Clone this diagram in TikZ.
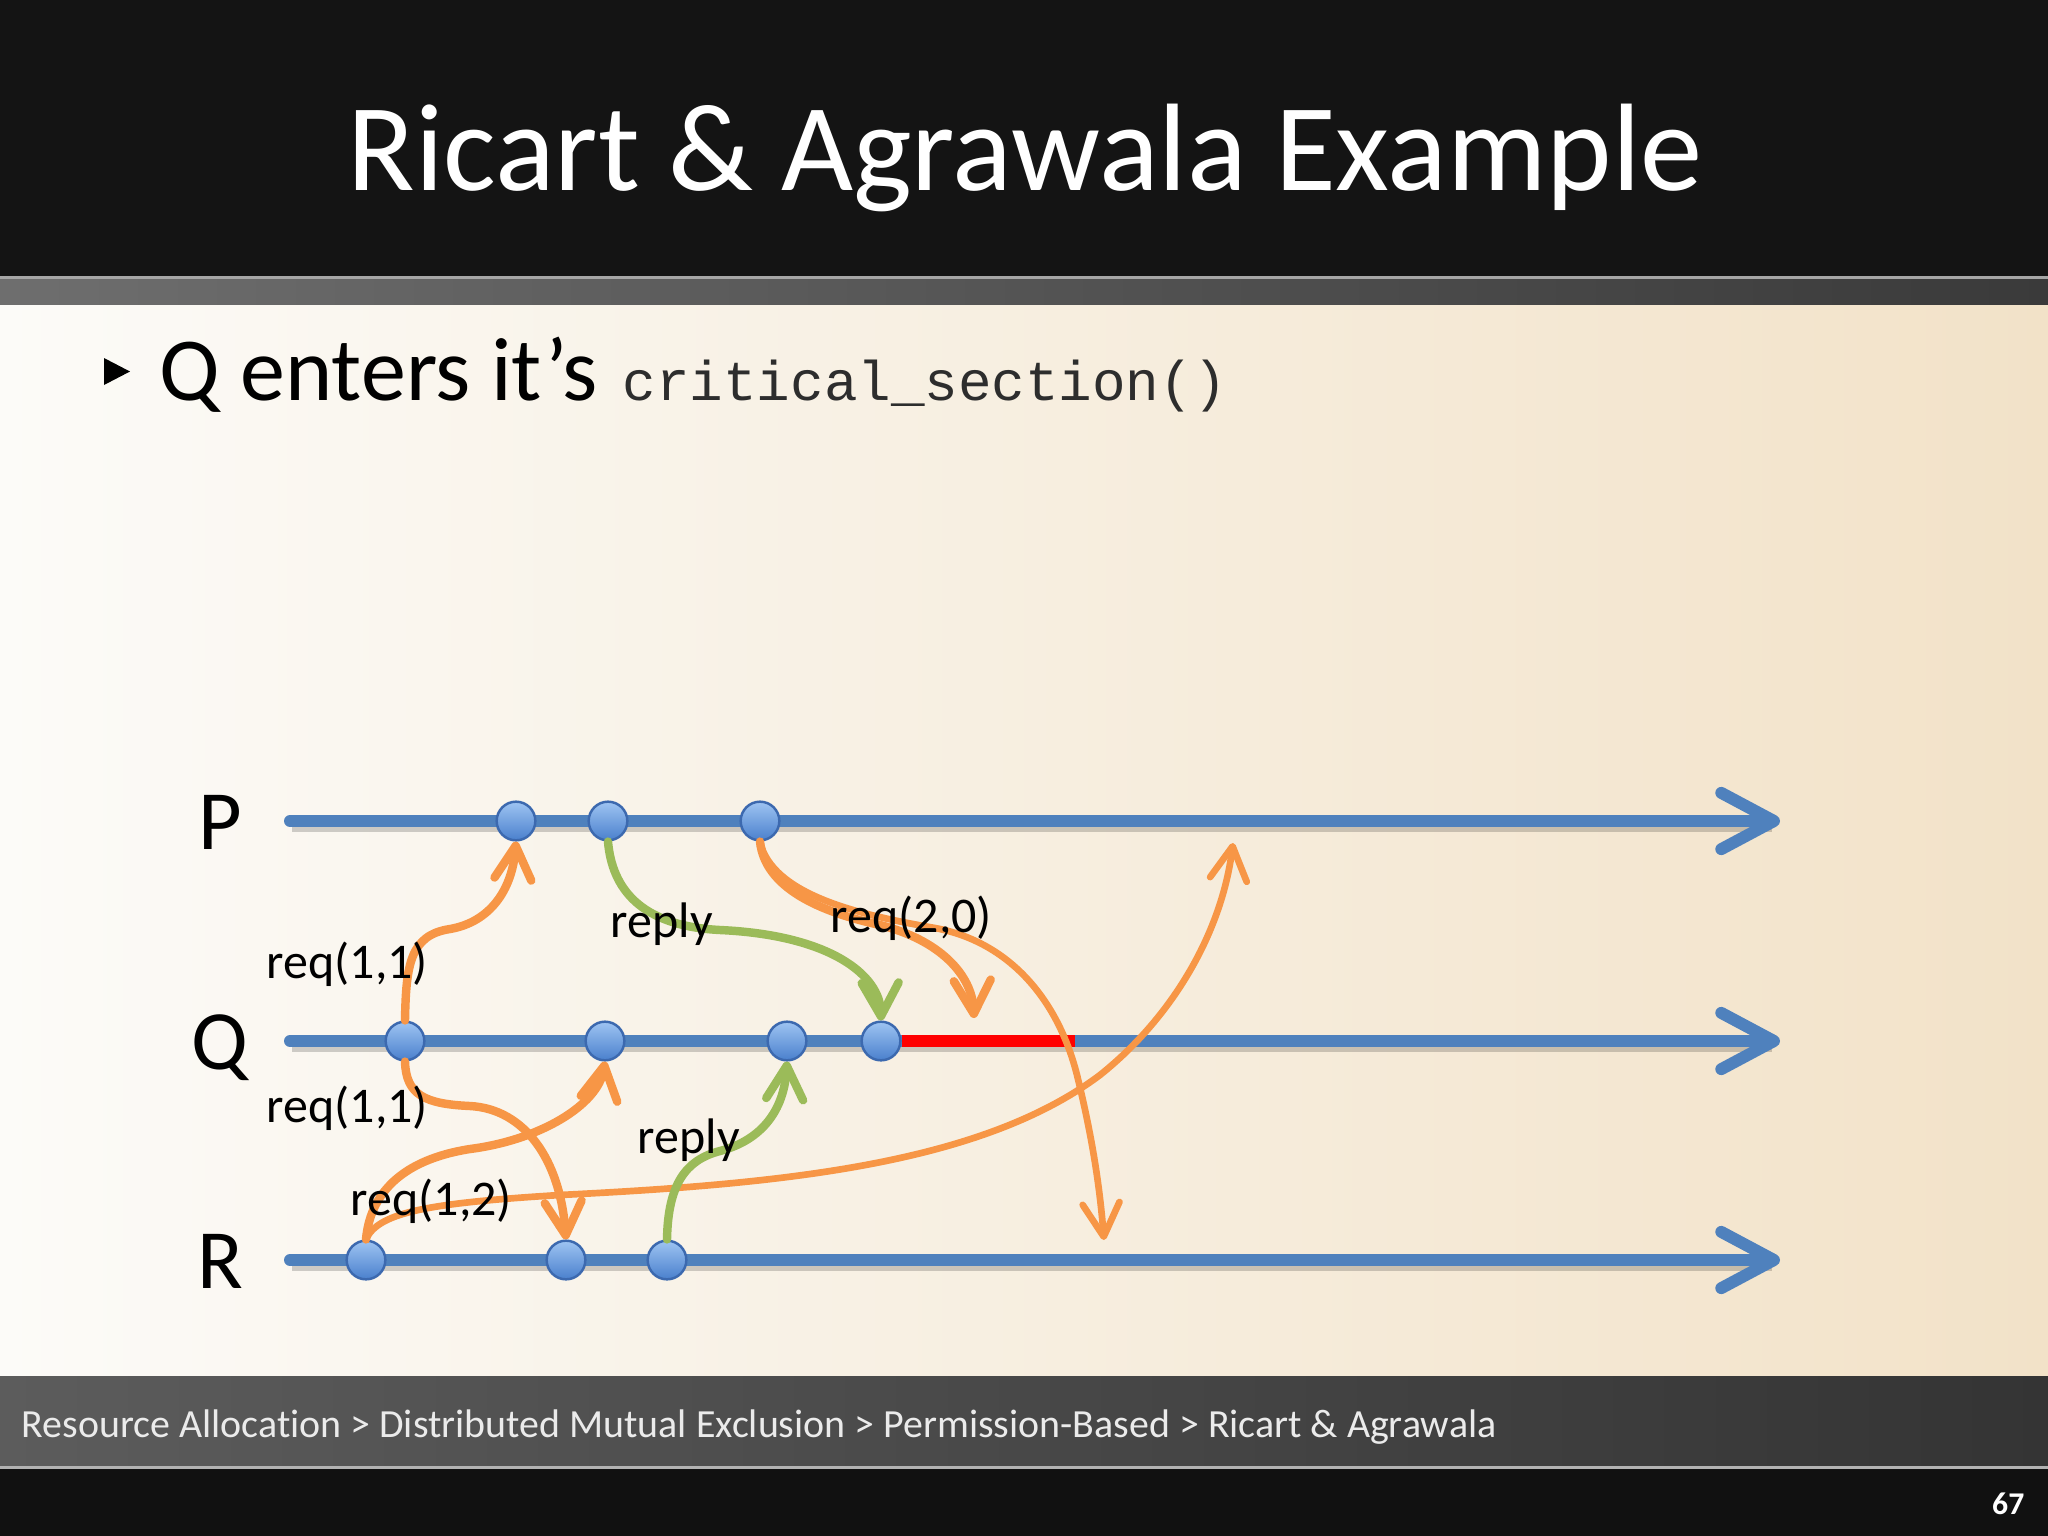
\documentclass[tikz,border=0pt]{standalone}
\usepackage{fontspec}
\setmainfont{Carlito}[Ligatures=NoCommon]
\newfontfamily\monof{Liberation Mono}
\usetikzlibrary{arrows.meta}
\definecolor{hdrblack}{RGB}{20,20,20}
\definecolor{bandL}{RGB}{110,110,110}
\definecolor{bandR}{RGB}{58,58,58}
\definecolor{bgL}{RGB}{252,251,248}
\definecolor{bgM}{RGB}{250,246,238}
\definecolor{bgR}{RGB}{242,226,200}
\definecolor{footL}{RGB}{92,92,92}
\definecolor{footR}{RGB}{52,52,52}
\definecolor{botblack}{RGB}{17,17,17}
\definecolor{tlblue}{RGB}{79,129,189}
\definecolor{evtop}{RGB}{158,196,242}
\definecolor{evbot}{RGB}{74,128,205}
\definecolor{evline}{RGB}{60,105,175}
\definecolor{msgorange}{RGB}{247,150,70}
\definecolor{msggreen}{RGB}{155,187,89}
\definecolor{critred}{RGB}{255,0,0}
\begin{document}
\begin{tikzpicture}[x=0.01cm,y=-0.01cm,
  timeline/.style={draw=tlblue, line width=3.4pt, line cap=round,
    -{Straight Barb[length=15pt,width=16pt,round]}},
  tlshadow/.style={draw=black, opacity=0.18, line width=3.6pt,
    transform canvas={xshift=0.5pt,yshift=-1.3pt}},
  critseg/.style={draw=critred, line width=3.4pt},
  event/.style={circle, inner sep=0pt, minimum size=11pt, draw=evline,
    line width=0.7pt, top color=evtop, bottom color=evbot},
  msg/.style={line width=2.4pt, line cap=round,
    -{Straight Barb[length=9.5pt,width=10.5pt,round]}},
  omsg/.style={msg, draw=msgorange},
  othin/.style={omsg, line width=1.9pt},
  gmsg/.style={msg, draw=msggreen},
  proc/.style={anchor=base, inner sep=0pt, font=\fontsize{24}{28}\selectfont},
  mlabel/.style={anchor=base west, inner sep=0pt, font=\fontsize{14.2}{17}\selectfont}
]
\useasboundingbox (0,0) rectangle (2048,1536);
% backgrounds
\fill[hdrblack] (0,0) rectangle (2048,277);
\shade[left color=bandL, right color=bandR] (0,277) rectangle (2048,305);
\fill[gray!70] (0,276) rectangle (2048,279);
\shade[left color=bgL, middle color=bgM, right color=bgR] (0,305) rectangle (2048,1376);
\shade[left color=footL, right color=footR] (0,1376) rectangle (2048,1468);
\fill[botblack] (0,1468) rectangle (2048,1536);
\fill[gray!60] (0,1466) rectangle (2048,1469);

% title and bullet
\node[anchor=base, inner sep=0pt, text=white, font=\fontsize{35.4}{40}\selectfont] (title) at (1025,190) {Ricart \& Agrawala Example};
\fill[black] (104,358) -- (104,385) -- (130,371.5) -- cycle;
\node[anchor=base west, inner sep=0pt, font=\fontsize{25.6}{29}\selectfont] (bullet) at (159,400) {Q enters it’s};
\node[anchor=base west, inner sep=0pt, text={rgb,255:red,45;green,45;blue,45}, font=\monof\fontsize{15.9}{18}\selectfont] (code) at (622,400) {critical\_section()};

% footer
\node[anchor=base west, inner sep=0pt, text=white!92!black, font=\fontsize{11.35}{14}\selectfont] (crumb) at (21,1437) {Resource Allocation > Distributed Mutual Exclusion > Permission-Based > Ricart \& Agrawala};
\node[anchor=base east, inner sep=0pt, text=white, font=\bfseries\fontsize{9}{11}\selectfont] (page) at (2025,1514) {67};

% timelines
\coordinate (Ps) at (290,821);  \coordinate (Pe) at (1780,821);
\coordinate (Qs) at (290,1041); \coordinate (Qe) at (1780,1041);
\coordinate (Rs) at (290,1260); \coordinate (Re) at (1780,1260);
\draw[tlshadow] (Ps) -- (1770,821);
\draw[tlshadow] (Qs) -- (1770,1041);
\draw[tlshadow] (Rs) -- (1770,1260);
\draw[timeline] (Ps) -- (Pe);
\draw[timeline] (Qs) -- (Qe);
\draw[timeline] (Rs) -- (Re);

\node[proc] (lP) at (220,849) {P};
\node[proc] (lQ) at (220,1069) {Q};
\node[proc] (lR) at (220,1288) {R};

% events
\node[event] (P1) at (516,821) {};
\node[event] (P2) at (608,821) {};
\node[event] (P3) at (760,821) {};
\node[event] (Q1) at (405,1041) {};
\node[event] (Q2) at (605,1041) {};
\node[event] (Q3) at (787,1041) {};
\node[event] (Q4) at (881,1041) {};
\node[event] (R1) at (366,1260) {};
\node[event] (R2) at (566,1260) {};
\node[event] (R3) at (667,1260) {};

% critical section
\coordinate (csEnd) at (1075,1041);
\draw[critseg] (Q4.east) -- (csEnd);

% free arrow ends
\coordinate (pT) at (1233,843);
\coordinate (qT) at (974,1018);
\coordinate (rT) at (1104,1240);

% messages
\draw[omsg] (Q1.north) .. controls (406,965) and (410,935) .. (450,929) .. controls (490,922) and (512,890) .. (P1.south);
\draw[omsg] (Q1.south) .. controls (406,1095) and (425,1104) .. (470,1106) .. controls (525,1109) and (560,1160) .. (R2.north);
\draw[omsg] (R1.north) .. controls (370,1195) and (400,1160) .. (470,1149) .. controls (540,1140) and (598,1105) .. (Q2.south);
\draw[othin] (R1.north) .. controls (378,1212) and (430,1203) .. (560,1195) .. controls (780,1184) and (980,1165) .. (1100,1075) .. controls (1175,1015) and (1222,930) .. (pT);
\draw[gmsg] (P2.south) .. controls (612,888) and (640,926) .. (720,930) .. controls (830,935) and (880,975) .. (Q4.north);
\draw[omsg] (P3.south) .. controls (765,888) and (820,912) .. (880,925) .. controls (940,940) and (972,975) .. (qT);
\draw[othin] (P3.south) .. controls (772,895) and (860,915) .. (935,928) .. controls (1010,942) and (1058,1000) .. (1077,1075) .. controls (1093,1140) and (1100,1190) .. (rT);
\draw[gmsg] (R3.north) .. controls (668,1185) and (685,1160) .. (720,1151) .. controls (762,1140) and (784,1110) .. (Q3.south);

% message labels
\node[mlabel] (m1) at (266,978) {req(1,1)};
\node[mlabel] (m2) at (266,1122) {req(1,1)};
\node[mlabel] (m3) at (350,1215) {req(1,2)};
\node[mlabel] (m4) at (610,937) {reply};
\node[mlabel] (m5) at (637,1153) {reply};
\node[mlabel] (m6) at (830,932) {req(2,0)};
\end{tikzpicture}
\end{document}
